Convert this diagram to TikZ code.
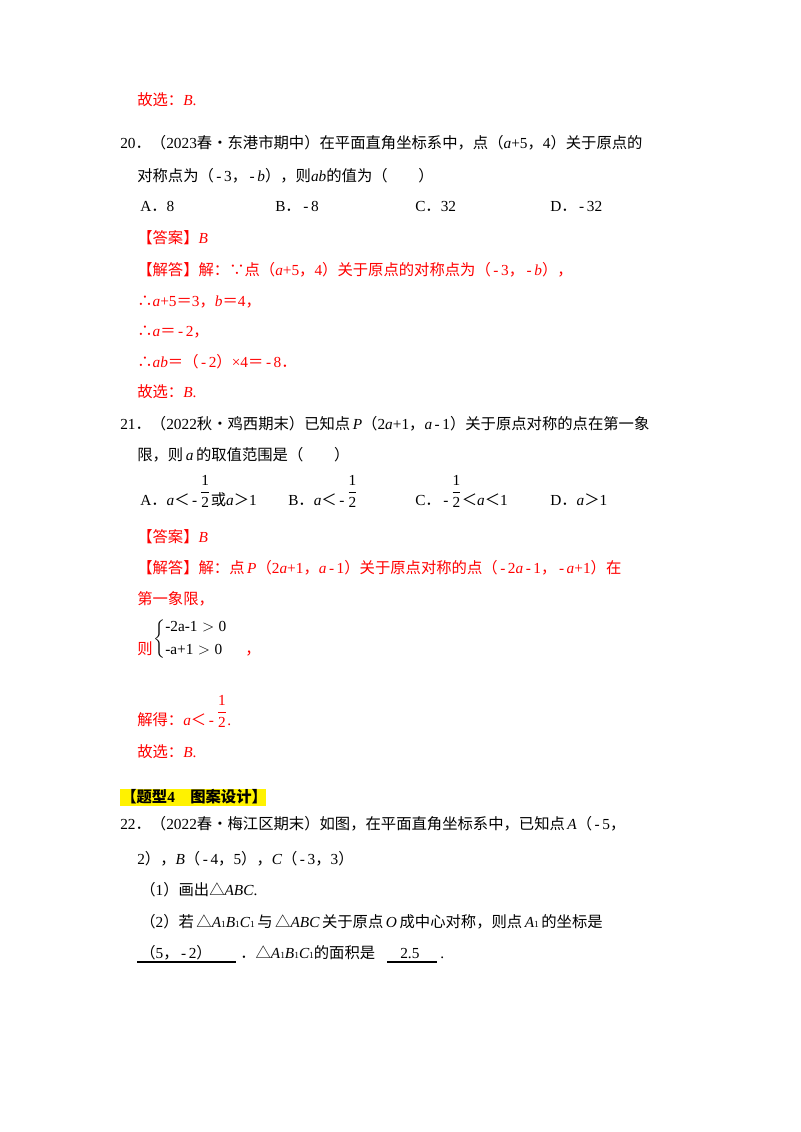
\documentclass[tikz,border=0pt]{standalone}
\usepackage{fontspec}
\usepackage{amsmath}
\setmainfont{Noto Sans CJK SC}
\newfontfamily\ls{Liberation Serif}
\newcommand\I[1]{{\ls\itshape #1}}
\newcommand\R[1]{{\ls #1}}
\newcommand\mi{\R{\,-\,}}
\newcommand\fr{\raisebox{0.55em}{$\dfrac{\mbox{\R{1}}}{\mbox{\R{2}}}$}}
\definecolor{ans}{RGB}{255,0,0}
\tikzset{t/.style={anchor=base west,inner sep=0pt,font=\fontsize{11.5}{14}\selectfont},
 r/.style={t,text=ans}}
\begin{document}
\begin{tikzpicture}[x=0.75pt,y=-0.75pt]
\useasboundingbox[fill=white] (0,0) rectangle (800,1132);
\node[r] (l1) at (137,105) {故选：\I{B}\R{.}};
\node[t] (l2) at (120,148) {\R{20}．（\R{2023}春•东港市期中）在平面直角坐标系中，点（\I{a}\R{+5}，\R{4}）关于原点的};
\node[t] (l3) at (137,181) {对称点为（\mi\R{3}，\mi\I{b}），则\I{ab}的值为（\qquad）};
\node[t] (o1) at (140,211) {\R{A}．\R{8}};
\node[t] (o2) at (275,211) {\R{B}．\mi\R{8}};
\node[t] (o3) at (415,211) {\R{C}．\R{32}};
\node[t] (o4) at (550,211) {\R{D}．\mi\R{32}};
\node[r] (l4) at (137,243) {【答案】\I{B}};
\node[r] (l5) at (137,275) {【解答】解：∵点（\I{a}\R{+5}，\R{4}）关于原点的对称点为（\mi\R{3}，\mi\I{b}），};
\node[r] (l6) at (137,306) {∴\I{a}\R{+5}＝\R{3}，\I{b}＝\R{4}，};
\node[r] (l7) at (137,336) {∴\I{a}＝\mi\R{2}，};
\node[r] (l8) at (137,367) {∴\I{ab}＝（\mi\R{2}）\R{×4}＝\mi\R{8}．};
\node[r] (l9) at (137,397) {故选：\I{B}\R{.}};
\node[t] (m1) at (120,429) {\R{21}．（\R{2022}秋•鸡西期末）已知点\,\I{P}（\R{2}\I{a}\R{+1}，\I{a}\mi\R{1}）关于原点对称的点在第一象};
\node[t] (m2) at (137,460) {限，则\,\I{a}\,的取值范围是（\qquad）};
\node[t] (p1) at (140,505) {\R{A}．\I{a}＜\mi\fr 或\I{a}＞\R{1}};
\node[t] (p2) at (288,505) {\R{B}．\I{a}＜\mi\fr};
\node[t] (p3) at (415,505) {\R{C}．\mi\fr＜\I{a}＜\R{1}};
\node[t] (p4) at (550,505) {\R{D}．\I{a}＞\R{1}};
\node[r] (m3) at (137,542) {【答案】\I{B}};
\node[r] (m4) at (137,573) {【解答】解：点\,\I{P}（\R{2}\I{a}\R{+1}，\I{a}\mi\R{1}）关于原点对称的点（\mi\R{2}\I{a}\mi\R{1}，\mi\I{a}\R{+1}）在};
\node[r] (m5) at (137,604) {第一象限，};
\node[r] (m6) at (137,654) {则};
\node[t,anchor=west] (sys) at (153,639) {$\left\{\begin{array}{@{}l@{}}\mbox{\R{-2a-1}}>\mbox{\R{0}}\\[3pt] \mbox{\R{-a+1}}>\mbox{\R{0}}\end{array}\right.$};
\node[r] (m7) at (245,654) {，};
\node[r] (m8) at (137,725) {解得：\I{a}＜\mi\fr\R{.}};
\node[r] (m9) at (137,757) {故选：\I{B}\R{.}};
\fill[yellow] (120,789) rectangle (266,806);
\node[t,font=\fontsize{11.5}{14}\selectfont\bfseries] (h) at (121,802) {【题型\R{\bfseries 4}\quad 图案设计】};
\node[t] (n1) at (120,829) {\R{22}．（\R{2022}春•梅江区期末）如图，在平面直角坐标系中，已知点\,\I{A}（\mi\R{5}，};
\node[t] (n2) at (137,864) {\R{2}），\I{B}（\mi\R{4}，\R{5}），\I{C}（\mi\R{3}，\R{3}）};
\node[t] (n3) at (140,895) {（\R{1}）画出△\I{ABC}\R{.}};
\node[t] (n4) at (140,927) {（\R{2}）若\,△\I{A}\R{\scriptsize1}\I{B}\R{\scriptsize1}\I{C}\R{\scriptsize1}\,与\,△\I{ABC}\,关于原点\,\I{O}\,成中心对称，则点\,\I{A}\R{\scriptsize1}\,的坐标是};
\node[t] (n5) at (140,958) {（\R{5}，\mi\R{2}）};
\node[t] (n6) at (240,958) {．△\I{A}\R{\scriptsize1}\I{B}\R{\scriptsize1}\I{C}\R{\scriptsize1}的面积是};
\node[t] (n7) at (400,958) {\R{2.5}};
\node[t] (n8) at (440,958) {\R{.}};
\draw[line width=0.8pt] (137,962) -- (236,962);
\draw[line width=0.8pt] (387,962) -- (437,962);
\end{tikzpicture}
\end{document}
